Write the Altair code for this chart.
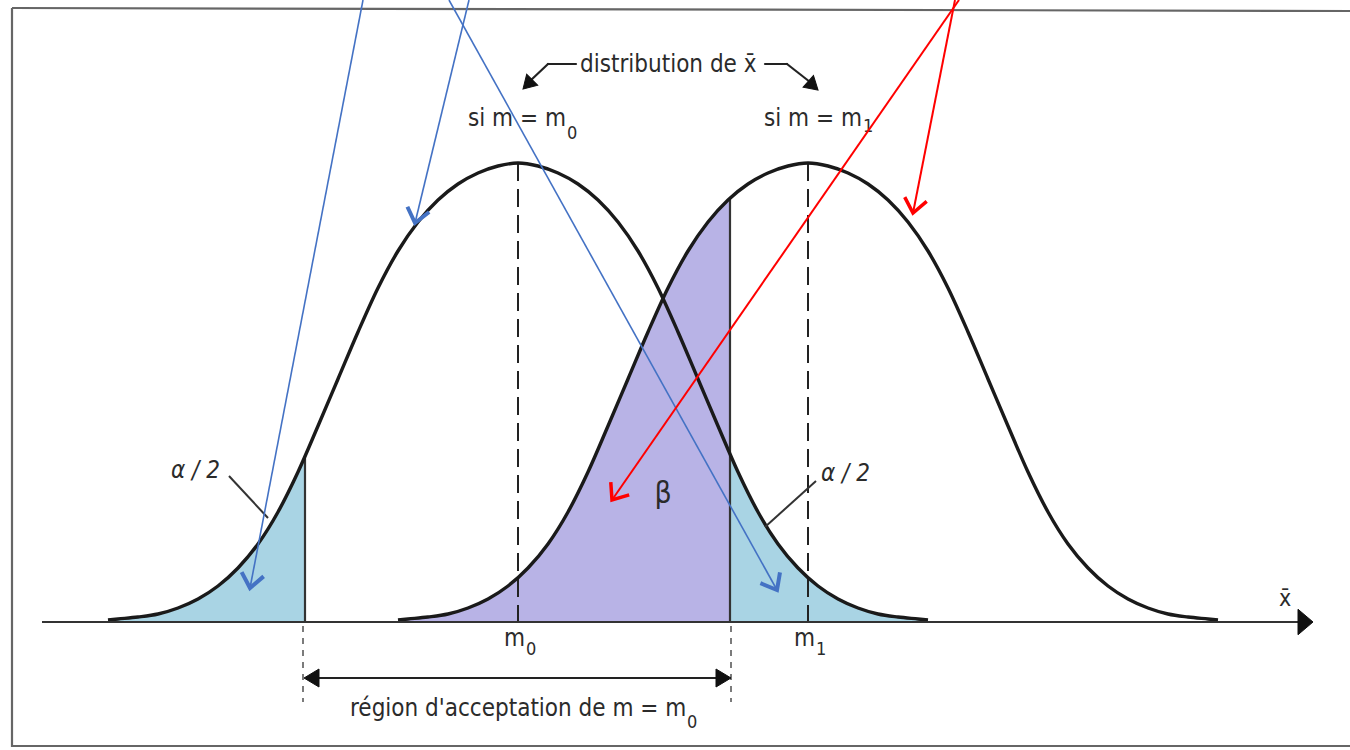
import math
import numpy as np
import pandas as pd
import altair as alt

W, H = 1350, 750
AXIS_Y = 622  # vertical position of the x̄ axis (screen units, downwards)

# Half profile of each bell curve: horizontal offset from the centre and
# height above the axis.  Both distributions share the same shape.
offsets = [0, 20, 40, 60, 80, 100, 120, 140, 160, 180, 200, 220, 240,
           260, 280, 300, 320, 340, 360, 380, 400, 410]
heights = [459, 456, 449, 438, 422, 400, 371, 334, 290, 243, 196, 150, 110,
           78, 54, 36, 23, 14, 8, 5, 3, 2]

centre_m0 = 518
centre_m1 = 808
lower_cut = 305   # left end of the acceptance region
upper_cut = 730   # right end of the acceptance region

FONT = "DejaVu Sans Condensed, Liberation Sans Narrow, sans-serif"
INK = "#2b2b2b"
BLUE_FILL = "#a9d4e4"
PURPLE_FILL = "#b8b3e6"
BLUE = "#4472c4"
RED = "#ff0000"

xs = alt.Scale(domain=[0, W], range=[0, W], nice=False, zero=False)
ys = alt.Scale(domain=[0, H], range=[H, 0], reverse=True, nice=False, zero=False)


def X(f):
    return alt.X(f, type="quantitative", scale=xs, axis=None)


def Y(f):
    return alt.Y(f, type="quantitative", scale=ys, axis=None)


def height_at(x, c):
    return float(np.interp(abs(x - c), offsets, heights))


def curve(c):
    ds = list(reversed(offsets[1:])) + offsets
    sg = [-1] * (len(offsets) - 1) + [1] * len(offsets)
    hs = list(reversed(heights[1:])) + heights
    xsv = [c + s * d for s, d in zip(sg, ds)]
    return pd.DataFrame({"x": xsv, "y": [AXIS_Y - h for h in hs]})


def region(c, lo, hi):
    df = curve(c)
    df = df[(df.x >= lo) & (df.x <= hi)]
    extra = []
    for b in (lo, hi):
        if c - offsets[-1] < b < c + offsets[-1] and not (df.x == b).any():
            extra.append({"x": b, "y": AXIS_Y - height_at(b, c)})
    df = pd.concat([df, pd.DataFrame(extra)]).sort_values("x")
    df["base"] = AXIS_Y
    return df


def area(df, color):
    return alt.Chart(df).mark_area(color=color, opacity=1, interpolate="monotone").encode(
        x=X("x"), y=Y("y"), y2="base")


def line(df, width=3.4, color="#1a1a1a"):
    return alt.Chart(df).mark_line(color=color, strokeWidth=width,
                                   interpolate="monotone").encode(x=X("x"), y=Y("y"))


def segs(rows, color=INK, width=2.0, dash=None, cap="butt"):
    df = pd.DataFrame(rows, columns=["x", "y", "x2", "y2"])
    kw = dict(color=color, strokeWidth=width, strokeCap=cap)
    if dash:
        kw["strokeDash"] = dash
    return alt.Chart(df).mark_rule(**kw).encode(x=X("x"), y=Y("y"), x2="x2", y2="y2")


def heads(rows, shape, size, color, filled=True, width=1.0):
    # rows: (tail_x, tail_y, tip_x, tip_y); the symbol sits on the tip and
    # is rotated along the direction tail -> tip
    recs = []
    for x0, y0, x1, y1 in rows:
        ang = math.degrees(math.atan2(y1 - y0, x1 - x0)) % 360
        recs.append({"x": x1, "y": y1, "a": ang})
    df = pd.DataFrame(recs)
    kw = dict(shape=shape, size=size, filled=filled, opacity=1)
    if filled:
        kw.update(fill=color, stroke=color, strokeWidth=width)
    else:
        kw.update(stroke=color, strokeWidth=width, strokeJoin="miter")
    return alt.Chart(df).mark_point(**kw).encode(
        x=X("x"), y=Y("y"), angle=alt.Angle("a:Q", scale=None))


def text(t, x, y, size=24, align="left", style="normal", color=INK):
    df = pd.DataFrame({"x": [x], "y": [y], "t": [t]})
    return alt.Chart(df).mark_text(font=FONT, fontSize=size, align=align,
                                   baseline="alphabetic", fontStyle=style,
                                   color=color).encode(x=X("x"), y=Y("y"), text="t:N")


TRI = "M0,0L-1,-0.6L-1,0.6Z"
TRI_WIDE = "M0,0L-1,-0.85L-1,0.85Z"
CHEVRON = "M-1,-0.8L0,0L-1,0.8"

layers = []

# shaded tails and the beta region
layers.append(area(region(centre_m0, centre_m0 - 410, lower_cut), BLUE_FILL))
layers.append(area(region(centre_m1, centre_m1 - 410, upper_cut), PURPLE_FILL))
layers.append(area(region(centre_m0, upper_cut, centre_m0 + 410), BLUE_FILL))

# vertical limits of the acceptance region
layers.append(segs([
    (lower_cut, AXIS_Y - height_at(lower_cut, centre_m0), lower_cut, AXIS_Y),
    (upper_cut, AXIS_Y - height_at(upper_cut, centre_m1), upper_cut, AXIS_Y),
], color="#333333", width=2.2))

# dashed lines through the means
layers.append(segs([
    (centre_m0, AXIS_Y - heights[0], centre_m0, AXIS_Y),
    (centre_m1, AXIS_Y - heights[0], centre_m1, AXIS_Y),
], color="#222222", width=2.0, dash=[18, 8]))

# the two bell curves
layers.append(line(curve(centre_m0)))
layers.append(line(curve(centre_m1)))

# x̄ axis with its arrow
layers.append(segs([(42, AXIS_Y, 1300, AXIS_Y)], color="#333333", width=2.0))
layers.append(heads([(1290, AXIS_Y, 1313, AXIS_Y)], TRI_WIDE, 4 * 15 ** 2, "#111111"))
layers.append(text("x\u0304", 1285, 606, size=23, align="center"))

# mean labels
layers.append(text("m", centre_m0 + 7, 646, size=24, align="right"))
layers.append(text("0", centre_m0 + 8, 655, size=18, align="left"))
layers.append(text("m", centre_m1 + 7, 646, size=24, align="right"))
layers.append(text("1", centre_m1 + 8, 655, size=18, align="left"))

# acceptance region brace
layers.append(segs([(lower_cut - 2, AXIS_Y + 4, lower_cut - 2, 702),
                    (upper_cut + 1, AXIS_Y + 4, upper_cut + 1, 702)],
                   color="#444444", width=1.4, dash=[6, 6]))
layers.append(segs([(lower_cut + 6, 678, upper_cut - 6, 678)], color="#222222", width=2.2))
layers.append(heads([(lower_cut + 20, 678, lower_cut - 1, 678),
                     (upper_cut - 20, 678, upper_cut + 1, 678)],
                    TRI, 4 * 15 ** 2, "#111111"))
layers.append(text("région d'acceptation de m = m", 350, 716, size=24))
layers.append(text("0", 687, 728, size=18))

# titles of the two distributions
layers.append(text("distribution de x\u0304", 580, 72, size=24))
layers.append(segs([(576, 64, 548, 64), (548, 64, 530, 81),
                    (765, 64, 787, 64), (787, 64, 810, 82)],
                   color="#222222", width=2.2, cap="round"))
layers.append(heads([(540, 72, 523, 89), (800, 74, 818, 90)], TRI, 4 * 13 ** 2, "#111111"))
layers.append(text("si m = m", 566, 126, size=24, align="right"))
layers.append(text("0", 567, 139, size=18))
layers.append(text("si m = m", 862, 126, size=24, align="right"))
layers.append(text("1", 863, 132, size=18))

# alpha/2 and beta labels
layers.append(text("\u03b1 / 2", 171, 478, size=24, style="italic"))
layers.append(text("\u03b1 / 2", 821, 481, size=24, style="italic"))
layers.append(segs([(229, 476, 268, 518), (816, 481, 765, 527)], color="#333333", width=2.0))
layers.append(text("\u03b2", 663, 503, size=30, align="center"))

# frame
layers.append(segs([(12, 8, 1350, 11), (12, 8, 12, 747), (12, 746, 1350, 746)],
                   color="#666666", width=2.2))

# coloured pointers drawn over the figure
blue_lines = [(363, 0, 250, 588), (469, 0, 415, 223), (449, 0, 777, 590)]
red_lines = [(959, 0, 612, 500), (955, 0, 913, 213)]
layers.append(segs(blue_lines, color=BLUE, width=1.6))
layers.append(segs(red_lines, color=RED, width=2.0))
layers.append(heads(blue_lines, CHEVRON, 4 * 14 ** 2, BLUE, filled=False, width=4))
layers.append(heads(red_lines, CHEVRON, 4 * 14 ** 2, RED, filled=False, width=3.5))

chart = alt.layer(*layers).properties(
    width=W, height=H, padding=0, autosize=alt.AutoSizeParams(type="none"),
    background="white",
).configure_view(stroke=None)

chart.save("out.html", embed_options={"renderer": "svg", "actions": False})
